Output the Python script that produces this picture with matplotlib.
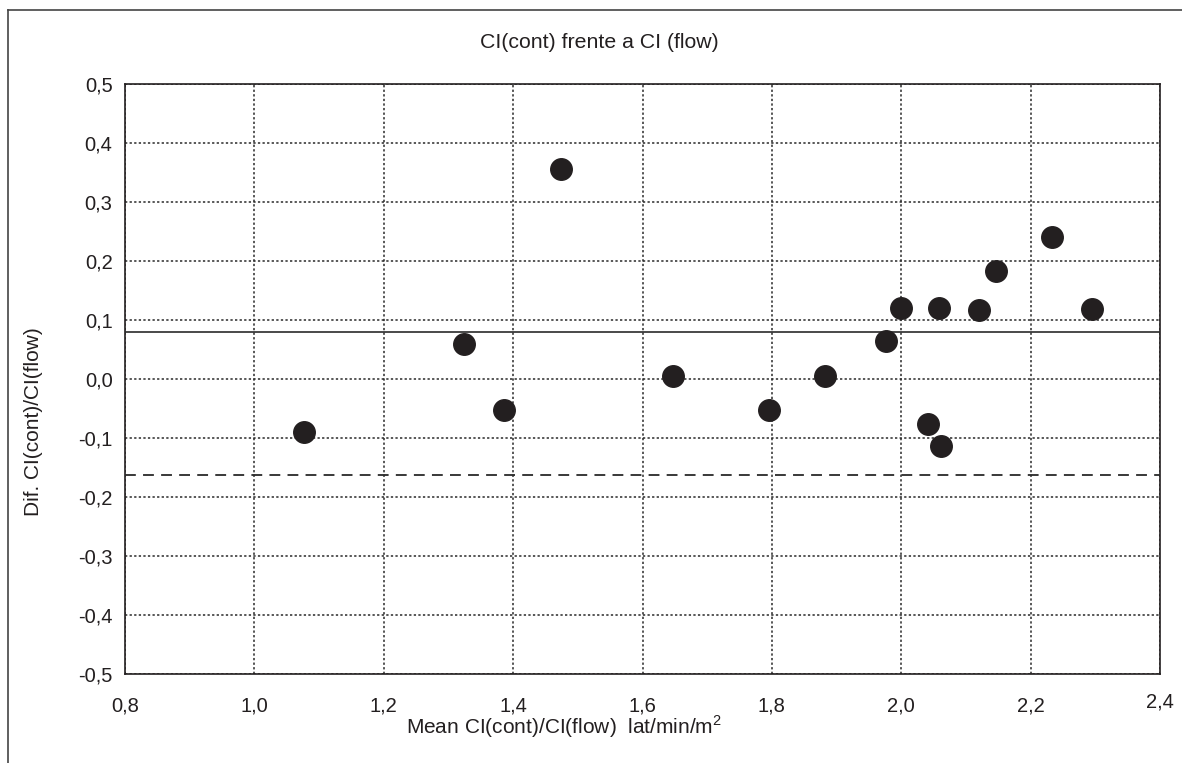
import matplotlib
matplotlib.use('Agg')
import matplotlib.pyplot as plt
from matplotlib.lines import Line2D
import matplotlib.transforms as mtransforms

plt.rcParams['font.family'] = ['Liberation Sans', 'DejaVu Sans']
plt.rcParams['mathtext.fontset'] = 'custom'
plt.rcParams['mathtext.rm'] = 'Liberation Sans'

# datos
media = [1.076, 1.324, 1.386, 1.474, 1.647, 1.796, 1.882, 1.976,
         2.000, 2.041, 2.059, 2.062, 2.120, 2.146, 2.233, 2.295]
diferencia = [-0.089, 0.059, -0.053, 0.356, 0.005, -0.053, 0.005, 0.064,
              0.120, -0.077, 0.120, -0.114, 0.117, 0.183, 0.241, 0.119]
media_dif = 0.080
limite_inf = -0.163

xticks = [0.8, 1.0, 1.2, 1.4, 1.6, 1.8, 2.0, 2.2, 2.4]
yticks = [-0.5, -0.4, -0.3, -0.2, -0.1, 0.0, 0.1, 0.2, 0.3, 0.4, 0.5]
titulo = 'CI(cont) frente a CI (flow)'
etiqueta_x = r'Mean CI(cont)/CI(flow)  lat/min/m$^{2}$'
etiqueta_y = 'Dif. CI(cont)/CI(flow)'


def coma(v):
    return ('%.1f' % v).replace('.', ',')


W, H = 1182, 763
fig = plt.figure(figsize=(W / 100, H / 100), dpi=100)
ax = fig.add_axes([125 / W, 1 - 674 / H, 1035 / W, 590 / H])

ax.plot(media, diferencia, 'o', color='#231f20', markersize=15.5, zorder=5)
ax.axhline(media_dif, color='#2a2a2a', lw=1.2, zorder=3)
ax.axhline(limite_inf, color='#2a2a2a', lw=1.3, dashes=(6, 4), zorder=3)

ax.set_xlim(0.8, 2.4)
ax.set_ylim(-0.5, 0.5)
ax.set_xticks(xticks)
ax.set_yticks(yticks)
ax.set_xticklabels([coma(v) for v in xticks])
ax.set_yticklabels([coma(v) for v in yticks])
ax.tick_params(axis='x', length=0, pad=16, labelsize=14.5, colors='#231f20')
ax.tick_params(axis='y', length=0, pad=9, labelsize=14.5, colors='#231f20')
ax.grid(True, color='#2a2a2a', lw=1.1, linestyle=(0, (1.5, 1.5)))
for s in ax.spines.values():
    s.set_color('#231f20')
    s.set_linewidth(1.2)

# la ultima etiqueta (2,4) un poco mas arriba
lab = ax.get_xticklabels()[-1]
lab.set_transform(lab.get_transform() +
                  mtransforms.ScaledTranslation(0, 4 / 100, fig.dpi_scale_trans))

fig.text(599 / W, 1 - 43 / H, titulo, ha='center', va='center',
         fontsize=15.3, color='#231f20')
fig.text(564 / W, 1 - 727 / H, etiqueta_x, ha='center', va='center',
         fontsize=15, color='#231f20')
fig.text(34 / W, 1 - 422 / H, etiqueta_y, ha='center', va='center',
         rotation=90, fontsize=15, color='#231f20')

# marco de la figura (arriba e izquierda)
fig.add_artist(Line2D([8 / W, 1], [1 - 10 / H, 1 - 10 / H], color='#444444', lw=1.2))
fig.add_artist(Line2D([8 / W, 8 / W], [0, 1 - 10 / H], color='#444444', lw=1.2))

fig.savefig('out.png', dpi=100)
